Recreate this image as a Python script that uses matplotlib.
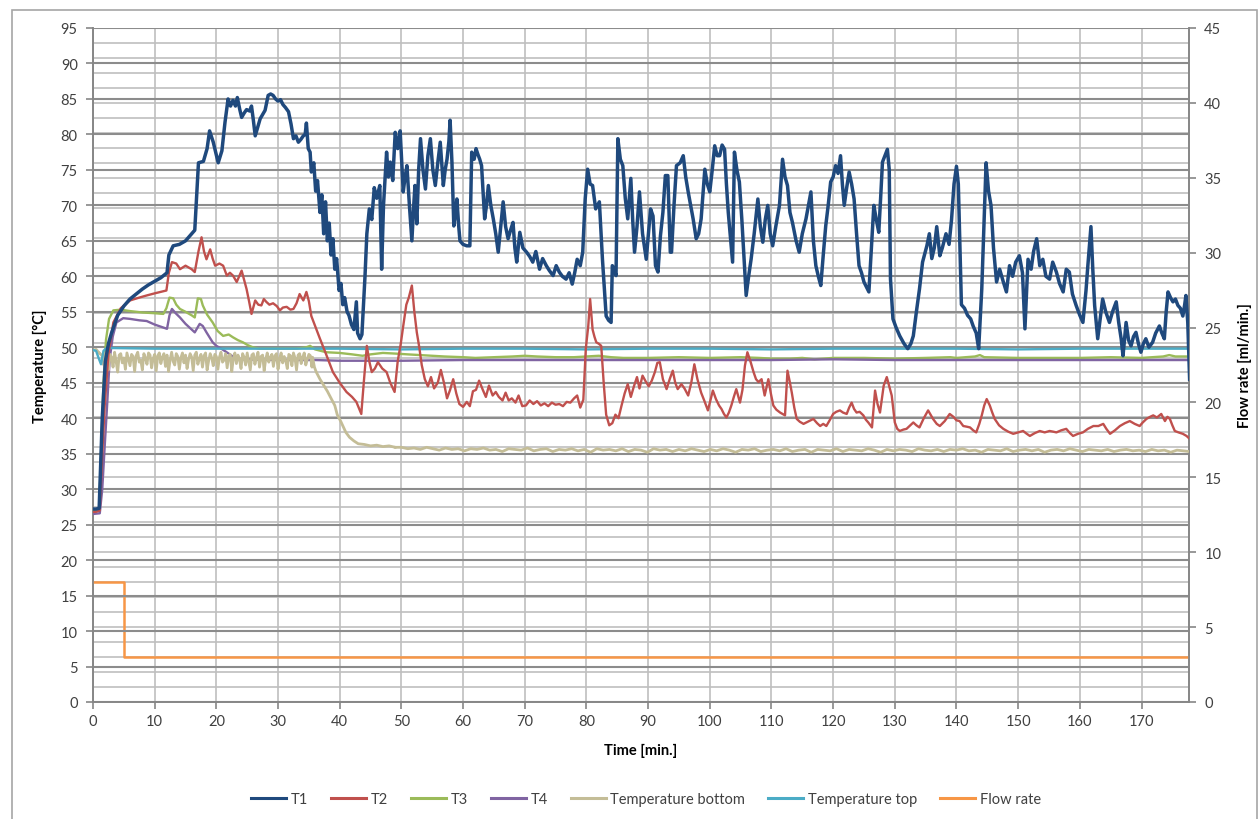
import numpy as np
import matplotlib
matplotlib.use("Agg")
import matplotlib.pyplot as plt
from matplotlib.ticker import MultipleLocator
from matplotlib.patches import Rectangle
from matplotlib.lines import Line2D

plt.rcParams['font.family'] = ['Lato', 'DejaVu Sans']

# ---------------- data ----------------
t1_time = [0, 0.5, 1.0, 1.5, 2.0, 2.5, 3, 4, 5, 6, 7, 8, 9, 10, 11, 12, 12.3, 13, 14, 15, 16, 16.5, 17.1, 17.9, 18.5, 18.9, 19.5, 20.3, 20.9, 21.4, 21.9, 22.3, 22.7, 23.1, 23.4, 23.8, 24.1, 24.5, 24.9, 25.4, 25.7, 26.0, 26.3, 26.7, 27.1, 27.5, 27.9, 28.4, 28.8, 29.2, 29.6, 30, 30.4, 30.8, 31.2, 31.7, 32.1, 32.5, 32.9, 33.3, 33.7, 34.1, 34.4, 34.6, 34.9, 35.2, 35.4, 35.8, 36.1, 36.4, 36.8, 37.1, 37.4, 37.7, 38, 38.3, 38.6, 38.9, 39.2, 39.5, 39.9, 40.2, 40.5, 40.8, 41.2, 41.5, 41.9, 42.3, 42.7, 42.9, 43.3, 43.6, 44.1, 44.4, 44.8, 45.2, 45.6, 46.0, 46.5, 46.8, 47.1, 47.6, 47.9, 48.2, 48.6, 49, 49.4, 49.8, 50.3, 50.6, 50.9, 51.3, 51.7, 52.0, 52.2, 52.5, 52.8, 53.1, 53.5, 53.9, 54.3, 54.7, 55.1, 55.5, 55.9, 56.3, 56.8, 57.1, 57.4, 57.7, 57.9, 58.2, 58.5, 58.8, 59, 59.3, 59.5, 60, 60.6, 61.1, 61.4, 61.8, 62.1, 62.4, 62.7, 63, 63.3, 63.5, 63.8, 64.1, 64.5, 64.9, 65.3, 65.7, 66.1, 66.5, 66.9, 67.3, 67.7, 68.1, 68.4, 68.7, 69, 69.2, 69.7, 70.3, 70.8, 71.3, 71.8, 72.4, 72.9, 73.5, 74, 74.6, 75.1, 75.6, 76.1, 76.7, 77.2, 77.7, 78.1, 78.5, 79, 79.4, 79.8, 80.2, 80.6, 81, 81.5, 82.1, 82.6, 83.2, 83.6, 84, 84.2, 84.5, 84.8, 85.1, 85.5, 85.9, 86.3, 86.7, 87.2, 87.5, 87.8, 88.2, 88.6, 89.1, 89.7, 90.4, 90.8, 91.2, 91.6, 92, 92.4, 92.8, 93.2, 93.6, 93.8, 94.2, 94.6, 95.2, 95.7, 96.1, 96.5, 96.9, 97.3, 97.8, 98.2, 98.6, 99.2, 99.6, 100, 100.4, 100.8, 101.2, 101.6, 102, 102.4, 102.7, 103, 103.4, 103.7, 104, 104.4, 104.8, 105.2, 105.6, 105.9, 106.3, 106.7, 107.2, 107.8, 108.2, 108.6, 109, 109.4, 109.8, 110.2, 110.7, 111.3, 111.8, 112.2, 112.6, 113, 113.4, 114, 114.5, 115, 115.6, 116, 116.4, 116.8, 117.2, 117.6, 118, 118.4, 118.8, 119.2, 119.6, 120, 120.4, 120.8, 121.2, 121.5, 121.8, 122.2, 122.6, 123, 123.4, 123.8, 124.2, 124.6, 125, 125.4, 125.8, 126.2, 126.6, 127, 127.4, 127.7, 128, 128.4, 128.8, 129.1, 129.3, 129.7, 130.2, 130.8, 131.5, 132.1, 132.6, 133, 133.5, 134, 134.5, 135.2, 135.6, 136, 136.4, 136.8, 137.3, 137.7, 138.3, 138.8, 139.2, 139.6, 140, 140.3, 140.8, 141.3, 141.8, 142.3, 142.7, 143.2, 143.6, 144.1, 144.4, 144.8, 145.2, 145.6, 146, 146.5, 147, 147.6, 148.1, 148.6, 149.1, 149.6, 150.2, 150.7, 151.1, 151.6, 152.1, 152.5, 153, 153.5, 154, 154.5, 155.1, 155.6, 156.2, 156.7, 157.3, 157.8, 158.3, 158.8, 159.4, 160, 160.5, 161, 161.3, 161.8, 162.1, 162.4, 162.9, 163.3, 163.7, 164.2, 164.8, 165.3, 165.9, 166.3, 166.7, 167, 167.5, 167.9, 168.3, 168.7, 169.1, 169.5, 169.9, 170.3, 170.7, 171.2, 171.8, 172.3, 172.9, 173.3, 173.7, 174, 174.3, 174.7, 175.1, 175.5, 175.9, 176.3, 176.7, 177, 177.2, 177.5, 177.8]
t1_vals = [27.2, 27.2, 27.3, 40, 48, 50.5, 52, 54.5, 55.8, 56.8, 57.5, 58.2, 58.8, 59.3, 59.8, 60.5, 63, 64.3, 64.5, 65, 66, 66.5, 76, 76.2, 78, 80.5, 78.9, 76, 77.7, 81.7, 85, 84, 84.8, 84, 85.2, 83.5, 82.4, 83, 83.5, 83.3, 84, 82, 79.8, 81, 82.2, 82.8, 83.4, 85.5, 85.7, 85.5, 85, 84.7, 84.9, 84.2, 83.8, 83.2, 81.5, 79.4, 79.8, 78.9, 79.3, 79.8, 80, 81.6, 78, 77.5, 74.7, 76, 72, 73.5, 69, 71.5, 66, 70.5, 65, 67.5, 63, 65.3, 61, 62.5, 58, 59, 56, 57, 55, 54.5, 53.2, 52.5, 56.4, 52, 51.2, 51.8, 60, 66, 69.5, 68, 72.5, 71, 72.8, 61, 70, 77.5, 74, 76.1, 73.5, 80.3, 78, 80.5, 71.9, 74, 75.6, 70, 65, 70, 72.8, 67.4, 75, 79.4, 75, 72.3, 77, 79.4, 75, 72.8, 76, 78.9, 72.8, 75, 76.5, 79, 82, 76, 67.1, 69, 70.9, 67, 65, 64.5, 64.3, 64.3, 77.5, 76.5, 78, 77.2, 76.5, 75.6, 71, 68.1, 70, 72.8, 70, 68.1, 66, 63.4, 67, 70.5, 67, 65.3, 66.5, 67.6, 64, 62, 64.5, 66.2, 64, 63.4, 62.8, 62, 63.5, 61, 62.5, 61.5, 60.8, 60.1, 61.5, 60.6, 60, 59.6, 60.5, 58.9, 60.5, 62.4, 61.5, 63.4, 70.9, 75.1, 73, 72.8, 69.5, 70.5, 62.4, 54.4, 53.8, 53.5, 61.5, 61, 60.1, 79.4, 76.5, 75.6, 71, 68.1, 73.8, 68, 63.4, 67, 71.9, 66, 62.4, 69.5, 68.5, 61.5, 60.6, 65.7, 69, 74.2, 74.2, 63.4, 63.4, 70, 75.6, 76, 77, 74, 71.9, 70, 68.1, 65.3, 66, 68.1, 75.1, 73, 71.9, 75, 78.4, 77, 77, 78.5, 77.9, 73, 69, 65, 62, 77.5, 75, 73.3, 68, 62, 57.3, 60, 62.4, 66, 70.9, 67, 64.8, 68, 70, 66, 64.3, 67, 70, 76.5, 74, 72.8, 69, 67.6, 65, 63.4, 66, 68.1, 70, 71.9, 65, 61.5, 60, 58.7, 63, 67.1, 70, 73.3, 74, 75.6, 74.5, 77, 73, 70, 72.5, 74.7, 73, 70.9, 66, 61.5, 60.5, 59.2, 58.5, 57.8, 64, 70, 68, 66.2, 71, 76.1, 77, 77.9, 75, 59.6, 54, 52.8, 51.6, 50.5, 49.8, 50.5, 51.6, 55, 58.2, 62, 64.3, 66, 62.5, 64, 67, 62.9, 64, 66, 64.5, 68, 73, 75.5, 73, 56, 55.5, 54.5, 54, 53, 52, 49.8, 58.2, 66, 76, 72, 70, 64, 59.2, 61, 59.2, 57.8, 61.5, 60, 62, 62.9, 60.5, 52.6, 62.4, 61, 63.5, 65.3, 61.5, 62.4, 60, 59.6, 62, 60.6, 59, 57.8, 61, 60.6, 57.5, 55.9, 54.5, 53.5, 58, 61.5, 67, 61, 55.9, 51.2, 54, 56.8, 55, 53.5, 55, 56.4, 53.5, 51.2, 48.8, 53.5, 51, 50.2, 51.5, 52.1, 50.5, 49.3, 50.5, 51.2, 50, 50.7, 52, 53, 52, 51.2, 55, 57.8, 57, 56.4, 56.8, 55.9, 55.5, 54.4, 56, 57.3, 53.5, 45.5]

t2_time = [0, 0.5, 1.1, 1.5, 1.9, 2.5, 3.3, 4.5, 6, 7.5, 8.7, 10, 11.9, 12.3, 12.8, 13.5, 14.1, 15, 16, 16.5, 17.1, 17.6, 18, 18.4, 19, 19.4, 19.8, 20.5, 21.1, 21.7, 22.2, 22.7, 23.3, 23.7, 24.1, 24.5, 24.9, 25.3, 25.7, 26.3, 26.8, 27.3, 27.7, 28.1, 28.6, 29.2, 29.8, 30.3, 30.8, 31.4, 32, 32.5, 33, 33.5, 34.1, 34.6, 35, 35.4, 36.1, 36.8, 37.8, 38.9, 40, 41.1, 42, 42.7, 43.5, 43.9, 44.4, 44.8, 45.2, 45.7, 46.2, 46.9, 47.6, 48.2, 48.9, 49.4, 49.9, 50.3, 50.8, 51.2, 51.7, 52.1, 52.5, 52.9, 53.3, 53.8, 54.3, 54.8, 55.3, 55.9, 56.4, 56.9, 57.4, 57.9, 58.4, 58.9, 59.4, 60, 60.6, 61.1, 61.6, 62.1, 62.6, 63.2, 63.7, 64.2, 64.8, 65.3, 65.8, 66.4, 66.9, 67.4, 67.9, 68.5, 69, 69.6, 70.2, 70.8, 71.4, 72, 72.6, 73.2, 73.8, 74.4, 75, 75.6, 76.2, 76.8, 77.4, 78, 78.5, 79, 79.5, 79.9, 80.3, 80.6, 81, 81.3, 81.6, 82, 82.4, 82.8, 83.2, 83.7, 84.2, 84.7, 85.2, 85.7, 86.2, 86.7, 87.2, 87.7, 88.2, 88.6, 89.1, 89.6, 90.1, 90.6, 91.1, 91.5, 91.9, 92.4, 93, 93.5, 94, 94.4, 94.8, 95.4, 95.9, 96.5, 97, 97.5, 98, 98.6, 99.1, 99.7, 100.1, 100.5, 101, 101.5, 101.9, 102.3, 102.7, 103.1, 103.5, 103.9, 104.3, 104.9, 105.3, 105.7, 106.1, 106.6, 107.1, 107.5, 107.9, 108.4, 108.9, 109.5, 109.9, 110.3, 110.8, 111.4, 111.8, 112.2, 112.6, 113, 113.3, 113.7, 114.1, 114.6, 115.2, 115.9, 116.8, 117.4, 117.9, 118.4, 118.9, 119.5, 120, 120.5, 121.1, 121.6, 122.2, 122.6, 123, 123.4, 123.8, 124.3, 124.9, 125.3, 125.7, 126.3, 126.8, 127.2, 127.6, 128.2, 128.7, 129.1, 129.5, 130, 130.4, 130.8, 131.4, 131.9, 132.5, 133, 133.5, 134, 134.7, 135.4, 135.8, 136.2, 136.8, 137.3, 138.1, 138.9, 139.5, 140, 140.5, 141.1, 141.7, 142.2, 142.7, 143.2, 143.7, 144.1, 144.5, 144.9, 145.4, 145.8, 146.2, 146.9, 147.6, 148.4, 149.2, 150, 150.8, 151.4, 151.9, 152.7, 153.5, 154.3, 155.1, 155.7, 156.2, 157, 157.8, 158.4, 158.9, 159.7, 160.5, 161.3, 162.2, 163, 163.8, 164.3, 164.9, 165.7, 166.5, 167.3, 168.1, 168.9, 169.7, 170.2, 170.8, 171.4, 171.9, 172.5, 173.2, 173.8, 174.2, 174.6, 175, 175.4, 176, 176.7, 177.3, 177.8]
t2_vals = [26.8, 26.8, 27, 35, 41.8, 49, 53.5, 55.5, 56.6, 57, 57.3, 57.6, 58, 60.5, 62, 61.8, 61, 61.5, 61, 60.6, 63.5, 65.5, 63.5, 62.4, 63.8, 62.5, 61.5, 61.8, 61.5, 60.1, 60.5, 60.1, 59.2, 60, 60.8, 59.5, 58.2, 56.5, 54.7, 56.6, 56, 55.9, 56.8, 56.4, 56, 56.2, 55.8, 55.2, 55.6, 55.7, 55.3, 55.4, 56.2, 57.5, 56.6, 57.8, 56.5, 54.4, 52.8, 51.2, 49, 46.5, 45, 43.7, 43, 42.3, 40.6, 45, 50.2, 48, 46.5, 47, 47.9, 47, 46.5, 45, 43.7, 48, 50.5, 53, 56, 57, 58.7, 55, 52.1, 50, 47.5, 45.5, 44.5, 45.8, 44.2, 45, 46.8, 45, 42.8, 44, 45.5, 43.5, 42, 41.6, 42.3, 41.7, 43.8, 44, 45.3, 44, 43, 44.6, 43.2, 43.7, 43, 42.5, 43.6, 42.5, 42.8, 42.2, 43.2, 41.7, 41.8, 42.5, 42, 42.4, 41.8, 42.1, 41.7, 42.2, 41.9, 42, 41.7, 42.3, 42.2, 42.8, 43.2, 41.5, 42.6, 49.8, 53, 56.8, 52.5, 51.5, 50.7, 50.5, 50.2, 45, 40.5, 39, 39.3, 40.5, 40, 41.8, 43.5, 44.8, 43, 44.5, 45.8, 44.2, 46, 45.2, 44.5, 45.3, 46.5, 47.8, 47.9, 45.5, 44.1, 45.5, 46.7, 45, 44.1, 44.8, 44.2, 43.2, 45, 47.6, 45.5, 43.6, 42.5, 41.1, 42.5, 43.9, 42.7, 41.8, 41.3, 40.6, 40.1, 40.8, 41.8, 43, 44.1, 42.2, 44, 47.4, 49.3, 48, 46.5, 45.5, 45.1, 45.5, 43.2, 45.5, 43.5, 41.8, 41.2, 40.8, 40.6, 40.4, 46.7, 45, 43.6, 41.5, 39.9, 39.5, 39.2, 39.5, 39.9, 39.3, 38.9, 39.2, 38.9, 39.8, 40.6, 40.9, 41.1, 40.8, 40.6, 41.5, 42.2, 41.3, 40.8, 40.9, 40.4, 39.8, 39.4, 38.7, 43.9, 42, 40.8, 44.6, 45.8, 44.5, 43.2, 39.4, 38.5, 38.2, 38.4, 38.5, 39, 39.4, 39, 38.7, 40, 41.1, 40.5, 39.9, 39.2, 38.9, 39.6, 40.6, 40.2, 39.7, 39.6, 38.9, 38.8, 38.7, 38.3, 38, 39.2, 40.4, 41.8, 42.7, 41.8, 40.8, 39.9, 39, 38.5, 38.1, 37.8, 38, 38.2, 37.8, 37.5, 37.9, 38.2, 38, 38.2, 38.1, 38, 38.3, 38.5, 37.9, 37.5, 37.8, 38, 38.5, 38.9, 38.9, 39.2, 38.5, 37.8, 38.3, 38.9, 39.3, 39.6, 39.2, 38.9, 39.4, 39.9, 40.2, 40.4, 40.1, 40.6, 39.6, 40.2, 39.9, 39, 38.2, 38, 37.8, 37.5, 37.1]

t3_time = [0, 1.0, 1.3, 1.7, 2.1, 2.6, 3.3, 4.5, 6, 8, 10, 11.4, 11.9, 12.4, 13, 13.5, 14.1, 15, 16, 16.5, 17, 17.5, 17.8, 18.5, 19.4, 20.2, 21.1, 22, 22.7, 23.5, 24.3, 25.1, 25.9, 27, 29, 31, 33, 34.6, 35.2, 36, 37.8, 40, 42, 43.7, 45, 47, 49.2, 51, 53, 55, 57, 60, 62, 65, 68, 70, 72, 75, 78, 80, 82, 84, 86, 90, 95, 100, 105, 108, 110, 113, 115, 117, 120, 125, 130, 135, 139, 140, 143, 143.8, 144.5, 150, 155, 160, 165, 170, 173.5, 174.5, 175.5, 178]
t3_vals = [27, 27.2, 35, 45, 51, 54, 55.2, 55.3, 55.1, 54.9, 54.8, 54.7, 55.5, 57, 56.9, 56, 55.4, 55, 54.5, 54.2, 56.9, 56.8, 55.9, 54.6, 53.5, 52.3, 51.6, 51.8, 51.4, 51, 50.7, 50.3, 50, 49.8, 49.8, 49.8, 49.8, 50, 50.2, 49.7, 49.3, 49.2, 49, 48.8, 49, 49.2, 49.1, 49, 48.9, 48.8, 48.7, 48.6, 48.5, 48.6, 48.7, 48.8, 48.7, 48.6, 48.6, 48.7, 48.8, 48.6, 48.5, 48.5, 48.6, 48.5, 48.6, 48.5, 48.4, 48.4, 48.5, 48.3, 48.5, 48.5, 48.4, 48.5, 48.6, 48.5, 48.7, 48.9, 48.6, 48.5, 48.5, 48.5, 48.6, 48.5, 48.7, 48.9, 48.7, 48.7]

t4_time = [0, 1.1, 1.5, 1.9, 2.3, 2.7, 3.2, 3.8, 4.9, 6, 7.5, 8.7, 10, 11, 12, 12.4, 12.8, 13.4, 14.1, 15, 16, 16.5, 17.3, 17.8, 18.4, 19.4, 20, 20.8, 21.5, 22.5, 24, 30, 35, 36, 40, 50, 60, 70, 80, 90, 100, 110, 120, 130, 140, 150, 160, 170, 178]
t4_vals = [26.5, 26.6, 30, 36.1, 42, 48.3, 51.5, 53.5, 54.1, 54, 53.8, 53.7, 53.2, 52.9, 52.6, 54.5, 55.4, 54.8, 54.2, 53.3, 52.5, 52.1, 53.3, 53, 52.1, 50.7, 50.2, 49.8, 49.4, 48.8, 48.3, 48.2, 48.2, 48.2, 48.1, 48.1, 48.2, 48.2, 48.2, 48.2, 48.2, 48.2, 48.3, 48.2, 48.2, 48.2, 48.2, 48.2, 48.2]

# Temperature bottom: start, noisy plateau (1.5-35.5 min), cool-down, noisy plateau (50-178 min)
bottom_start_time = [0, 0.5, 1.0]
bottom_start_vals = [49.6, 49.7, 49.2]
bottom_plateau_vals = [48.8, 47.5, 49.2, 48.1, 46.8, 49.0, 48.6, 47.2, 49.3, 48.0, 46.5, 48.9, 49.1, 47.8, 48.5, 46.9, 49.2, 48.3, 47.4, 49.0, 48.7, 46.6, 48.8, 49.3, 47.9, 48.2, 46.8, 49.1, 48.5, 47.6, 49.2, 48.9, 47.1, 48.4, 49.0, 46.7, 48.8, 49.2, 47.7, 48.6, 49.1, 47.3, 48.9, 46.6, 48.2, 49.3, 48.0, 47.5, 49.1, 48.7, 46.9, 48.5, 49.2, 47.8, 48.9, 47.0, 48.3, 49.1, 48.6, 46.7, 48.9, 49.3, 47.6, 48.4, 49.0, 47.2, 48.8, 49.2, 46.8, 48.1, 49.1, 48.5, 47.4, 49.0, 48.7, 46.9, 48.6, 49.3, 47.9, 48.2, 49.1, 47.1, 48.8, 49.0, 46.6, 48.4, 49.2, 47.7, 48.9, 48.3, 47.0, 49.1, 48.6, 47.5, 49.2, 48.0, 46.8, 48.9, 49.1, 47.6, 48.5, 49.3, 47.2, 48.7, 48.9, 46.7, 48.3, 49.2, 47.9, 48.6, 49.0, 47.3, 48.8, 49.1, 46.9, 48.4, 49.2, 47.8, 48.7, 48.1, 47.0, 49.0, 48.8, 47.4, 49.2, 48.5, 46.8, 48.9, 49.1, 47.7, 48.6, 49.2, 47.5, 48.3, 49.0, 48.8, 47.2]
bottom_cool_time = [35.6, 35.9, 36.2, 36.8, 37.5, 38, 38.6, 39.2, 39.6, 40.2, 41, 41.6, 42.3, 43, 44, 45, 46, 47, 48, 49]
bottom_cool_vals = [48.6, 47.2, 46.5, 45.5, 44.5, 43.8, 42.8, 41.8, 40.5, 39.5, 38.0, 37.3, 36.8, 36.4, 36.3, 36.1, 36.2, 36.0, 36.1, 35.9]
bottom_late_vals = [35.9, 35.7, 35.8, 35.6, 35.9, 35.7, 35.5, 35.8, 35.6, 35.7, 35.4, 35.7, 35.6, 35.8, 35.5, 35.6, 35.3, 35.7, 35.6, 35.5, 35.8, 35.4, 35.6, 35.7, 35.3, 35.6, 35.5, 35.7, 35.4, 35.6, 35.2, 35.7, 35.5, 35.6, 35.4, 35.7, 35.3, 35.6, 35.5, 35.2, 35.7, 35.5, 35.6, 35.3, 35.6, 35.4, 35.7, 35.5, 35.3, 35.6, 35.4, 35.7, 35.5, 35.2, 35.6, 35.5, 35.7, 35.3, 35.5, 35.6, 35.4, 35.7, 35.3, 35.5, 35.6, 35.2, 35.6, 35.5, 35.4, 35.7, 35.3, 35.6, 35.5, 35.4, 35.7, 35.5, 35.2, 35.6, 35.4, 35.6, 35.5, 35.3, 35.7, 35.5, 35.4, 35.6, 35.3, 35.6, 35.5, 35.7, 35.4, 35.5, 35.2, 35.6, 35.5, 35.4, 35.7, 35.3, 35.5, 35.6, 35.4, 35.6, 35.2, 35.5, 35.6, 35.4, 35.7, 35.5, 35.3, 35.6, 35.5, 35.4, 35.6, 35.3, 35.5, 35.6, 35.4, 35.5, 35.3, 35.6, 35.4, 35.5, 35.2, 35.5, 35.4, 35.3]

top_time = [0, 0.5, 0.9, 1.3, 1.7, 2.2, 10, 20, 30, 40, 50, 60, 70, 80, 90, 100, 110, 120, 130, 140, 150, 160, 170, 178]
top_vals = [49.6, 49.5, 48.5, 47.6, 49.5, 49.9, 49.8, 49.8, 49.8, 49.8, 49.7, 49.8, 49.8, 49.7, 49.8, 49.8, 49.7, 49.8, 49.8, 49.8, 49.7, 49.8, 49.8, 49.8]

flow_time = [0, 5, 5, 178]
flow_vals = [8, 8, 3, 3]

# ---------------- styling ----------------
C_T1 = '#1F497D'
C_T2 = '#C0504D'
C_T3 = '#9BBB59'
C_T4 = '#8064A2'
C_BOT = '#C4BD97'
C_TOP = '#4BACC6'
C_FLOW = '#F79646'
GRID_LIGHT = '#BFBFBF'
GRID_DARK = '#8C8C8C'
AXIS_C = '#868686'
TXT = '#404040'

W, H = 1260, 820
fig = plt.figure(figsize=(W / 100, H / 100), dpi=100)
fig.patch.set_facecolor('white')

# outer chart border
fig.add_artist(Rectangle((12 / W, -0.01), (1257 - 12) / W, 1 - 10.5 / H + 0.01,
                         transform=fig.transFigure, fill=False,
                         edgecolor='#A6A6A6', lw=1.2))

x0, x1, y0, y1 = 93, 1189, 29, 703
ax = fig.add_axes([x0 / W, 1 - y1 / H, (x1 - x0) / W, (y1 - y0) / H])
ax2 = ax.twinx()

# right axis (flow) -- drawn below: its gridlines, vertical gridlines, flow line
ax2.set_ylim(0, 45)
ax2.yaxis.set_major_locator(MultipleLocator(5))
ax2.yaxis.set_minor_locator(MultipleLocator(1))
ax2.grid(axis='y', which='minor', color=GRID_LIGHT, lw=1.2)
ax2.grid(axis='y', which='major', color=GRID_LIGHT, lw=1.2)
ax2.xaxis.set_visible(True)
ax2.xaxis.set_major_locator(MultipleLocator(5))
ax2.tick_params(axis='x', which='both', length=0, labelbottom=False, labeltop=False)
ax2.grid(axis='x', which='major', color=GRID_LIGHT, lw=1.2)
ax2.set_axisbelow(True)
ax2.plot(flow_time, flow_vals, color=C_FLOW, lw=1.8, zorder=3)

# left axis on top
ax.set_zorder(ax2.get_zorder() + 1)
ax.patch.set_visible(False)
ax.set_xlim(0, 177.7)
ax2.set_xlim(0, 177.7)
ax.set_ylim(0, 95)
ax.yaxis.set_major_locator(MultipleLocator(5))
ax.xaxis.set_major_locator(MultipleLocator(10))
ax.grid(axis='y', which='major', color=GRID_DARK, lw=1.5)
ax.set_axisbelow(True)

lw = 1.7
ax.plot(t3_time, t3_vals, color=C_T3, lw=lw, zorder=3)
ax.plot(t4_time, t4_vals, color=C_T4, lw=lw, zorder=3)
ax.plot(bottom_start_time, bottom_start_vals, color=C_BOT, lw=2.0, zorder=4)
tp = np.linspace(1.5, 35.5, len(bottom_plateau_vals))
ax.plot(np.concatenate([[1.0], tp, bottom_cool_time]),
        np.concatenate([[bottom_start_vals[-1]], bottom_plateau_vals, bottom_cool_vals]),
        color=C_BOT, lw=2.0, zorder=4)
tl = np.linspace(50, 177.8, len(bottom_late_vals))
ax.plot(np.concatenate([[bottom_cool_time[-1]], tl]),
        np.concatenate([[bottom_cool_vals[-1]], bottom_late_vals]),
        color=C_BOT, lw=2.0, zorder=4)
ax.plot(top_time, top_vals, color=C_TOP, lw=lw, zorder=5)
ax.plot(t2_time, t2_vals, color=C_T2, lw=lw, zorder=6)
ax.plot(t1_time, t1_vals, color=C_T1, lw=2.5, zorder=7)

for a in (ax, ax2):
    a.spines['top'].set_visible(False)
    for s in ('left', 'right', 'bottom'):
        a.spines[s].set_color(AXIS_C)
        a.spines[s].set_linewidth(1.2)

ax.tick_params(axis='both', which='major', direction='out', length=5, width=1.2,
               color=AXIS_C, labelsize=10.5, labelcolor=TXT, pad=4)
ax.tick_params(axis='y', pad=6)
ax2.tick_params(axis='y', which='major', direction='out', length=5, width=1.2,
                color=AXIS_C, labelsize=10.5, labelcolor=TXT, pad=6)
ax2.tick_params(axis='y', which='minor', length=0)

ax.set_ylabel('Temperature [°C]', fontsize=10.5, fontweight='bold', color='black', labelpad=10)
ax2.set_ylabel('Flow rate [ml/min.]', fontsize=10.5, fontweight='bold', color='black', labelpad=12)
ax.set_xlabel('Time [min.]', fontsize=10.5, fontweight='bold', color='black', labelpad=10)

handles = [Line2D([], [], color=c, lw=2.2) for c in (C_T1, C_T2, C_T3, C_T4, C_BOT, C_TOP, C_FLOW)]
labels = ['T1', 'T2', 'T3', 'T4', 'Temperature bottom', 'Temperature top', 'Flow rate']
leg = fig.legend(handles, labels, loc='center', bbox_to_anchor=(646 / W, 1 - 800 / H),
                 ncol=7, frameon=False, fontsize=10.5, handlelength=2.4,
                 handletextpad=0.3, columnspacing=1.6)
for txt in leg.get_texts():
    txt.set_color(TXT)

fig.savefig('out.png', dpi=100, facecolor='white')
